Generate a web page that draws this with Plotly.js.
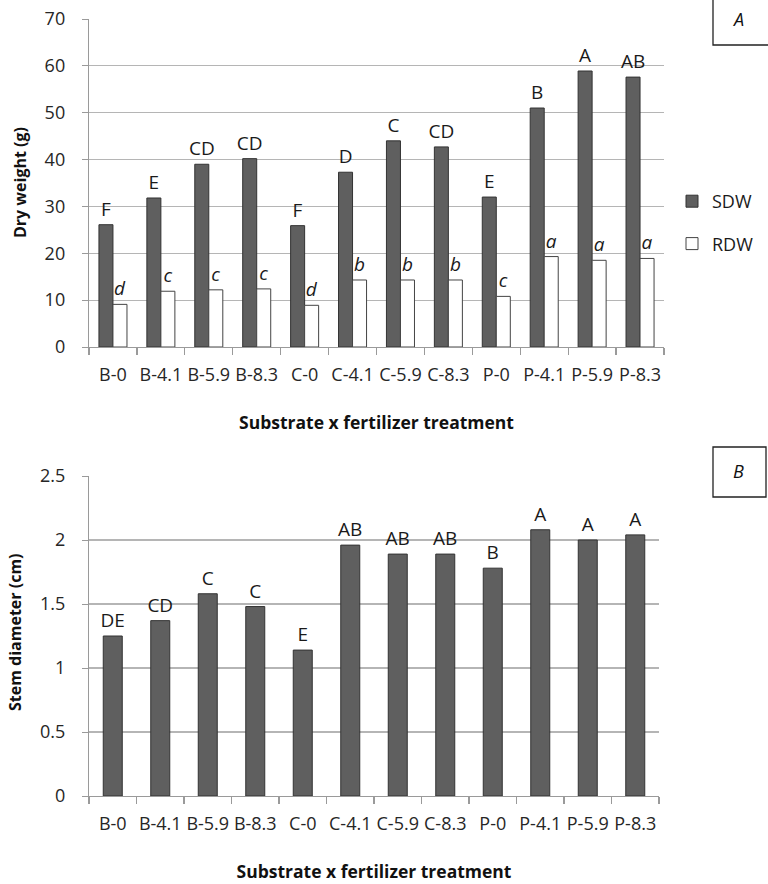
<!DOCTYPE html>
<html>
<head>
<meta charset="utf-8">
<script src="https://cdn.plot.ly/plotly-3.0.1.min.js"></script>
<style>html,body{margin:0;padding:0;background:#fff;}#chart{width:768px;height:884px;}</style>
</head>
<body>
<div id="chart"></div>
<script>
const categories = ['B-0','B-4.1','B-5.9','B-8.3','C-0','C-4.1','C-5.9','C-8.3','P-0','P-4.1','P-5.9','P-8.3'];
const sdw = [26.1, 31.8, 39.0, 40.2, 25.9, 37.3, 44.0, 42.7, 32.0, 51.0, 58.9, 57.6];
const sdwLetters = ['F','E','CD','CD','F','D','C','CD','E','B','A','AB'];
const rdw = [9.1, 11.9, 12.2, 12.4, 8.9, 14.3, 14.3, 14.3, 10.8, 19.3, 18.5, 18.9];
const rdwLetters = ['d','c','c','c','d','b','b','b','c','a','a','a'];
const stemDiameter = [1.25, 1.37, 1.58, 1.48, 1.14, 1.96, 1.89, 1.89, 1.78, 2.08, 2.00, 2.04];
const stemLetters = ['DE','CD','C','C','E','AB','AB','AB','B','A','A','A'];

const W = 768, H = 884;
const px = v => v / W;
const py = v => (H - v) / H;
const FONT = '"Open Sans", "Noto Sans", sans-serif';
const tickFont = {family: FONT, size: 18, color: '#262626'};
const xTitleFont = {family: FONT, size: 17.5, color: '#111', weight: 'bold'};
const yTitleFont = {family: FONT, size: 16, color: '#111', weight: 'bold'};
const labelFont = {family: FONT, size: 19, color: '#1a1a1a'};

const traces = [
  {type: 'bar', name: 'SDW', x: categories, y: sdw, text: sdwLetters, textposition: 'outside',
   textfont: labelFont, constraintext: 'none', cliponaxis: false, legendgroup: 'g1',
   marker: {color: '#5f5f5f', line: {color: '#333333', width: 1}}, xaxis: 'x', yaxis: 'y', hoverinfo: 'x+y'},
  {type: 'bar', name: 'RDW', x: categories, y: rdw, text: rdwLetters, textposition: 'outside',
   textfont: Object.assign({}, labelFont, {style: 'italic'}), constraintext: 'none', cliponaxis: false, legendgroup: 'g2',
   marker: {color: '#ffffff', line: {color: '#444444', width: 1}}, xaxis: 'x', yaxis: 'y', hoverinfo: 'x+y'},
  {type: 'bar', name: 'Stem diameter', x: categories, y: stemDiameter, text: stemLetters, textposition: 'outside',
   textfont: labelFont, constraintext: 'none', cliponaxis: false, showlegend: false, width: 0.4,
   marker: {color: '#5f5f5f', line: {color: '#333333', width: 1}}, xaxis: 'x2', yaxis: 'y2', hoverinfo: 'x+y'}
];

const xCommon = {
  type: 'category', showline: true, linecolor: '#9a9a9a', linewidth: 1.2,
  ticks: 'outside', tickson: 'boundaries', ticklen: 7, tickcolor: '#9a9a9a', tickwidth: 1.2,
  showgrid: false, tickfont: tickFont, tickangle: 0, ticklabelstandoff: 11, fixedrange: true
};
const yCommon = {
  showline: true, linecolor: '#9a9a9a', linewidth: 1.2, ticks: 'outside', ticklen: 6,
  tickcolor: '#9a9a9a', showgrid: true, gridcolor: '#b5b5b5', gridwidth: 1.2, zeroline: false,
  tickfont: tickFont, ticklabelstandoff: 13, fixedrange: true
};

const layout = {
  width: W, height: H, margin: {l: 0, r: 0, t: 0, b: 0},
  paper_bgcolor: '#ffffff', plot_bgcolor: '#ffffff',
  barmode: 'group', bargap: 0.415, bargroupgap: 0,
  xaxis: Object.assign({}, xCommon, {domain: [px(89), px(664)], anchor: 'y',
    title: {text: 'Substrate x fertilizer treatment', font: xTitleFont, standoff: 32}}),
  yaxis: Object.assign({}, yCommon, {domain: [py(347), py(19)], anchor: 'x', range: [0, 70], dtick: 10}),
  xaxis2: Object.assign({}, xCommon, {domain: [px(89), px(659)], anchor: 'y2',
    title: {text: 'Substrate x fertilizer treatment', font: xTitleFont, standoff: 32}}),
  yaxis2: Object.assign({}, yCommon, {domain: [py(796), py(476)], anchor: 'x2', range: [0, 2.5], dtick: 0.5}),
  showlegend: true,
  legend: {x: px(672), y: py(183), xanchor: 'left', yanchor: 'top', font: {family: FONT, size: 18, color: '#1a1a1a'},
    tracegroupgap: 16, itemwidth: 30, bgcolor: 'rgba(0,0,0,0)'},
  shapes: [
    {type: 'rect', xref: 'paper', yref: 'paper', x0: px(713), x1: px(775), y0: py(45), y1: py(-5),
     line: {color: '#222', width: 1.3}},
    {type: 'rect', xref: 'paper', yref: 'paper', x0: px(713), x1: px(766), y0: py(497), y1: py(447),
     line: {color: '#222', width: 1.3}}
  ],
  annotations: [
    {xref: 'paper', yref: 'paper', x: px(20), y: py(183), xanchor: 'center', yanchor: 'middle', textangle: -90,
     text: 'Dry weight (g)', showarrow: false, font: yTitleFont},
    {xref: 'paper', yref: 'paper', x: px(15), y: py(632), xanchor: 'center', yanchor: 'middle', textangle: -90,
     text: 'Stem diameter (cm)', showarrow: false, font: yTitleFont},
    {xref: 'paper', yref: 'paper', x: px(738), y: py(19), xanchor: 'center', yanchor: 'middle', text: 'A', showarrow: false,
     font: {family: FONT, size: 18, color: '#111', style: 'italic'}},
    {xref: 'paper', yref: 'paper', x: px(738), y: py(471), xanchor: 'center', yanchor: 'middle', text: 'B', showarrow: false,
     font: {family: FONT, size: 18, color: '#111', style: 'italic'}}
  ]
};

Plotly.newPlot('chart', traces, layout, {displayModeBar: false, staticPlot: true});
</script>
</body>
</html>
